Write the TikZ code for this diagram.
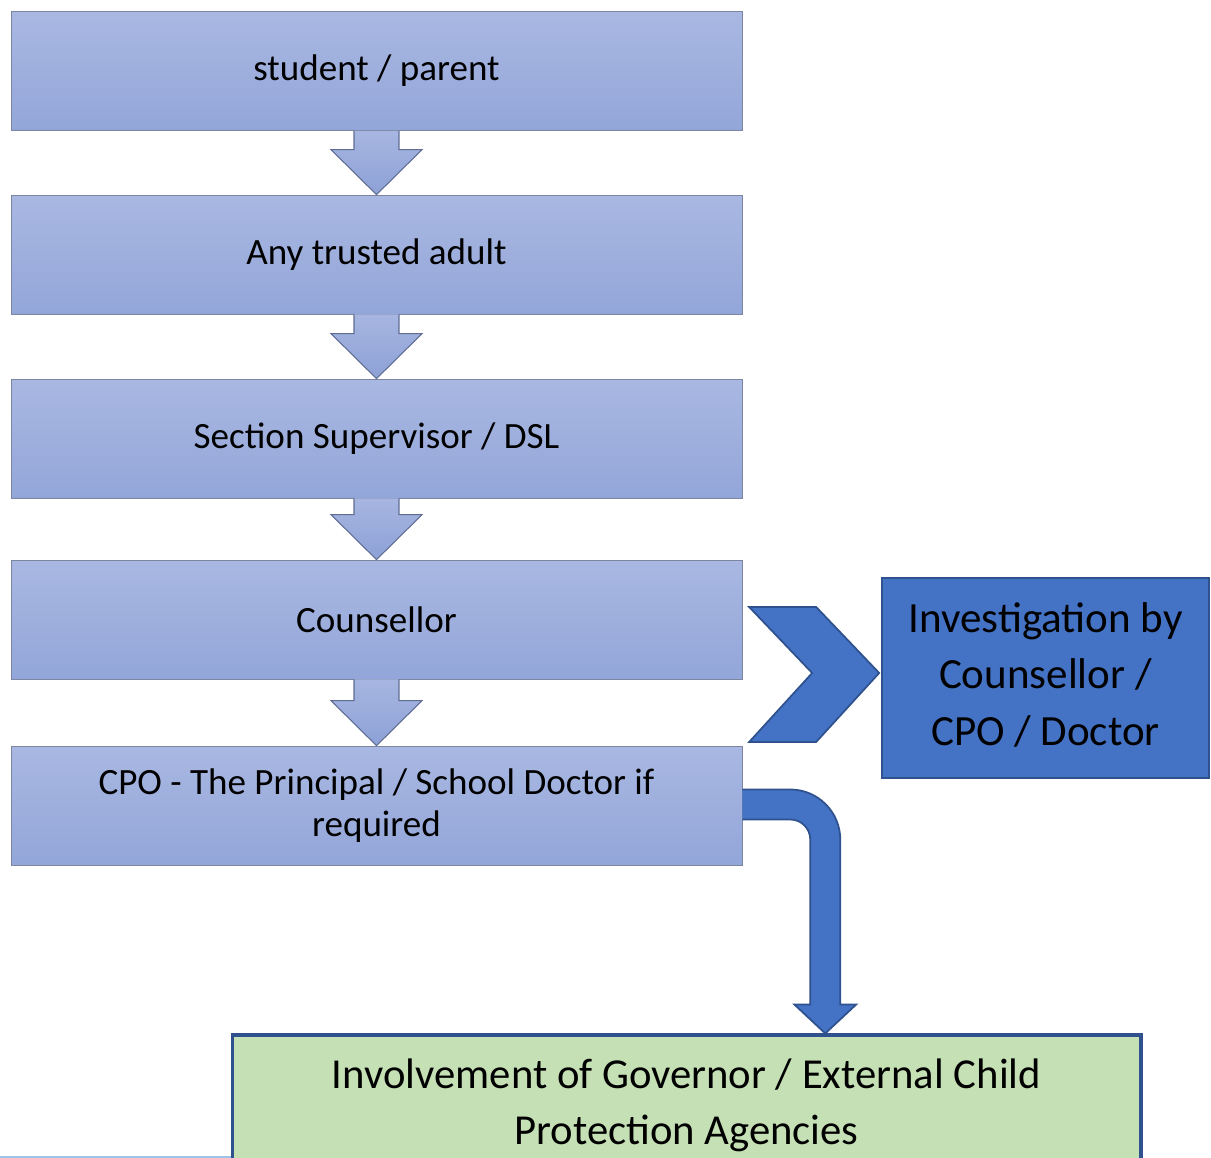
\documentclass[tikz,border=0pt]{standalone}
\usepackage{fontspec}
\setmainfont{Carlito}
\usepackage{tikz}
\usetikzlibrary{calc}

\definecolor{boxtop}{HTML}{A9B8E2}
\definecolor{boxbot}{HTML}{93A6D9}
\definecolor{boxline}{HTML}{7C86A0}
\definecolor{steptop}{HTML}{A7B6E1}
\definecolor{stepbot}{HTML}{8DA1D7}
\definecolor{stepline}{HTML}{5F6D92}
\definecolor{accent}{HTML}{4472C4}
\definecolor{accentline}{HTML}{2F528F}
\definecolor{govfill}{HTML}{C5E0B4}
\definecolor{rulecol}{HTML}{9DC3E6}

\tikzset{
    flowbox/.style={draw=boxline, top color=boxtop, bottom color=boxbot,
        minimum width=14.62cm, minimum height=2.38cm, inner sep=0pt,
        align=center, font=\fontsize{21.1}{24}\selectfont},
    stepdown/.style={draw=stepline, top color=steptop, bottom color=stepbot,
        line width=0.6pt, line join=miter},
    accentfill/.style={draw=accentline, fill=accent, line width=1pt, line join=miter}
}

% block arrow between two stacked boxes
\newcommand{\stepdownarrow}[2]{%
    \path[stepdown] ([xshift=-0.45cm]#1.south)
        -- ($(#2.north)+(-0.45cm,0.9cm)$) -- ($(#2.north)+(-0.91cm,0.9cm)$)
        -- (#2.north)
        -- ($(#2.north)+(0.91cm,0.9cm)$) -- ($(#2.north)+(0.45cm,0.9cm)$)
        -- ([xshift=0.45cm]#1.south);
}

\begin{document}
\begin{tikzpicture}[x=0.02cm, y=-0.02cm]

\path[use as bounding box, clip] (0,0) rectangle (1211,1158);

% main chain
\node[flowbox] (parent)     at (376.5,71)    {student / parent};
\node[flowbox] (adult)      at (376.5,254.5) {Any trusted adult};
\node[flowbox] (supervisor) at (376.5,438.5) {Section Supervisor / DSL};
\node[flowbox] (counsellor) at (376.5,619.5) {Counsellor};
\node[flowbox] (cpo)        at (376.5,805.5) {CPO - The Principal / School Doctor if\\required};

\stepdownarrow{parent}{adult}
\stepdownarrow{adult}{supervisor}
\stepdownarrow{supervisor}{counsellor}
\stepdownarrow{counsellor}{cpo}

% side branch
\node[accentfill, minimum width=6.54cm, minimum height=4cm, align=center,
    font=\fontsize{24.5}{32}\selectfont] (invest) at (1045.5,678)
    {Investigation by\\Counsellor /\\CPO / Doctor\rule[-0.16cm]{0pt}{0pt}};

\draw[accentfill] ([xshift=-2.64cm,yshift=1.42cm]invest.west)
    -- ([xshift=-1.3cm,yshift=1.42cm]invest.west)
    -- ([xshift=-0.04cm,yshift=0.1cm]invest.west)
    -- ([xshift=-1.3cm,yshift=-1.28cm]invest.west)
    -- ([xshift=-2.64cm,yshift=-1.28cm]invest.west)
    -- ([xshift=-1.38cm,yshift=0.1cm]invest.west) -- cycle;

% bottom box
\node[draw=accentline, fill=govfill, line width=1.8pt, minimum width=18.18cm,
    minimum height=2.8cm, align=center, font=\fontsize{24.3}{32}\selectfont]
    (gov) at (686.5,1105) {Involvement of Governor / External Child\\Protection Agencies};

\draw[rulecol, line width=1.2pt] (0,1157) -- (gov.west |- 0,1157);

% bent arrow down to the bottom box
\coordinate (bendtip) at ([xshift=1.66cm]cpo.east |- gov.north);
\path[accentfill] ([yshift=0.32cm]cpo.east) -- ++(48,0)
    .. controls +(27.6,0) and +(0,-27.6) .. ++(50,50)
    -- ([xshift=0.3cm,yshift=0.58cm]bendtip)
    -- ([xshift=0.62cm,yshift=0.58cm]bendtip)
    -- (bendtip)
    -- ([xshift=-0.62cm,yshift=0.58cm]bendtip)
    -- ([xshift=-0.3cm,yshift=0.58cm]bendtip)
    -- ([xshift=1.36cm,yshift=-0.68cm]cpo.east)
    .. controls +(0,-11) and +(11,0) .. ([xshift=0.96cm,yshift=-0.28cm]cpo.east)
    -- ([yshift=-0.28cm]cpo.east);

\end{tikzpicture}
\end{document}
